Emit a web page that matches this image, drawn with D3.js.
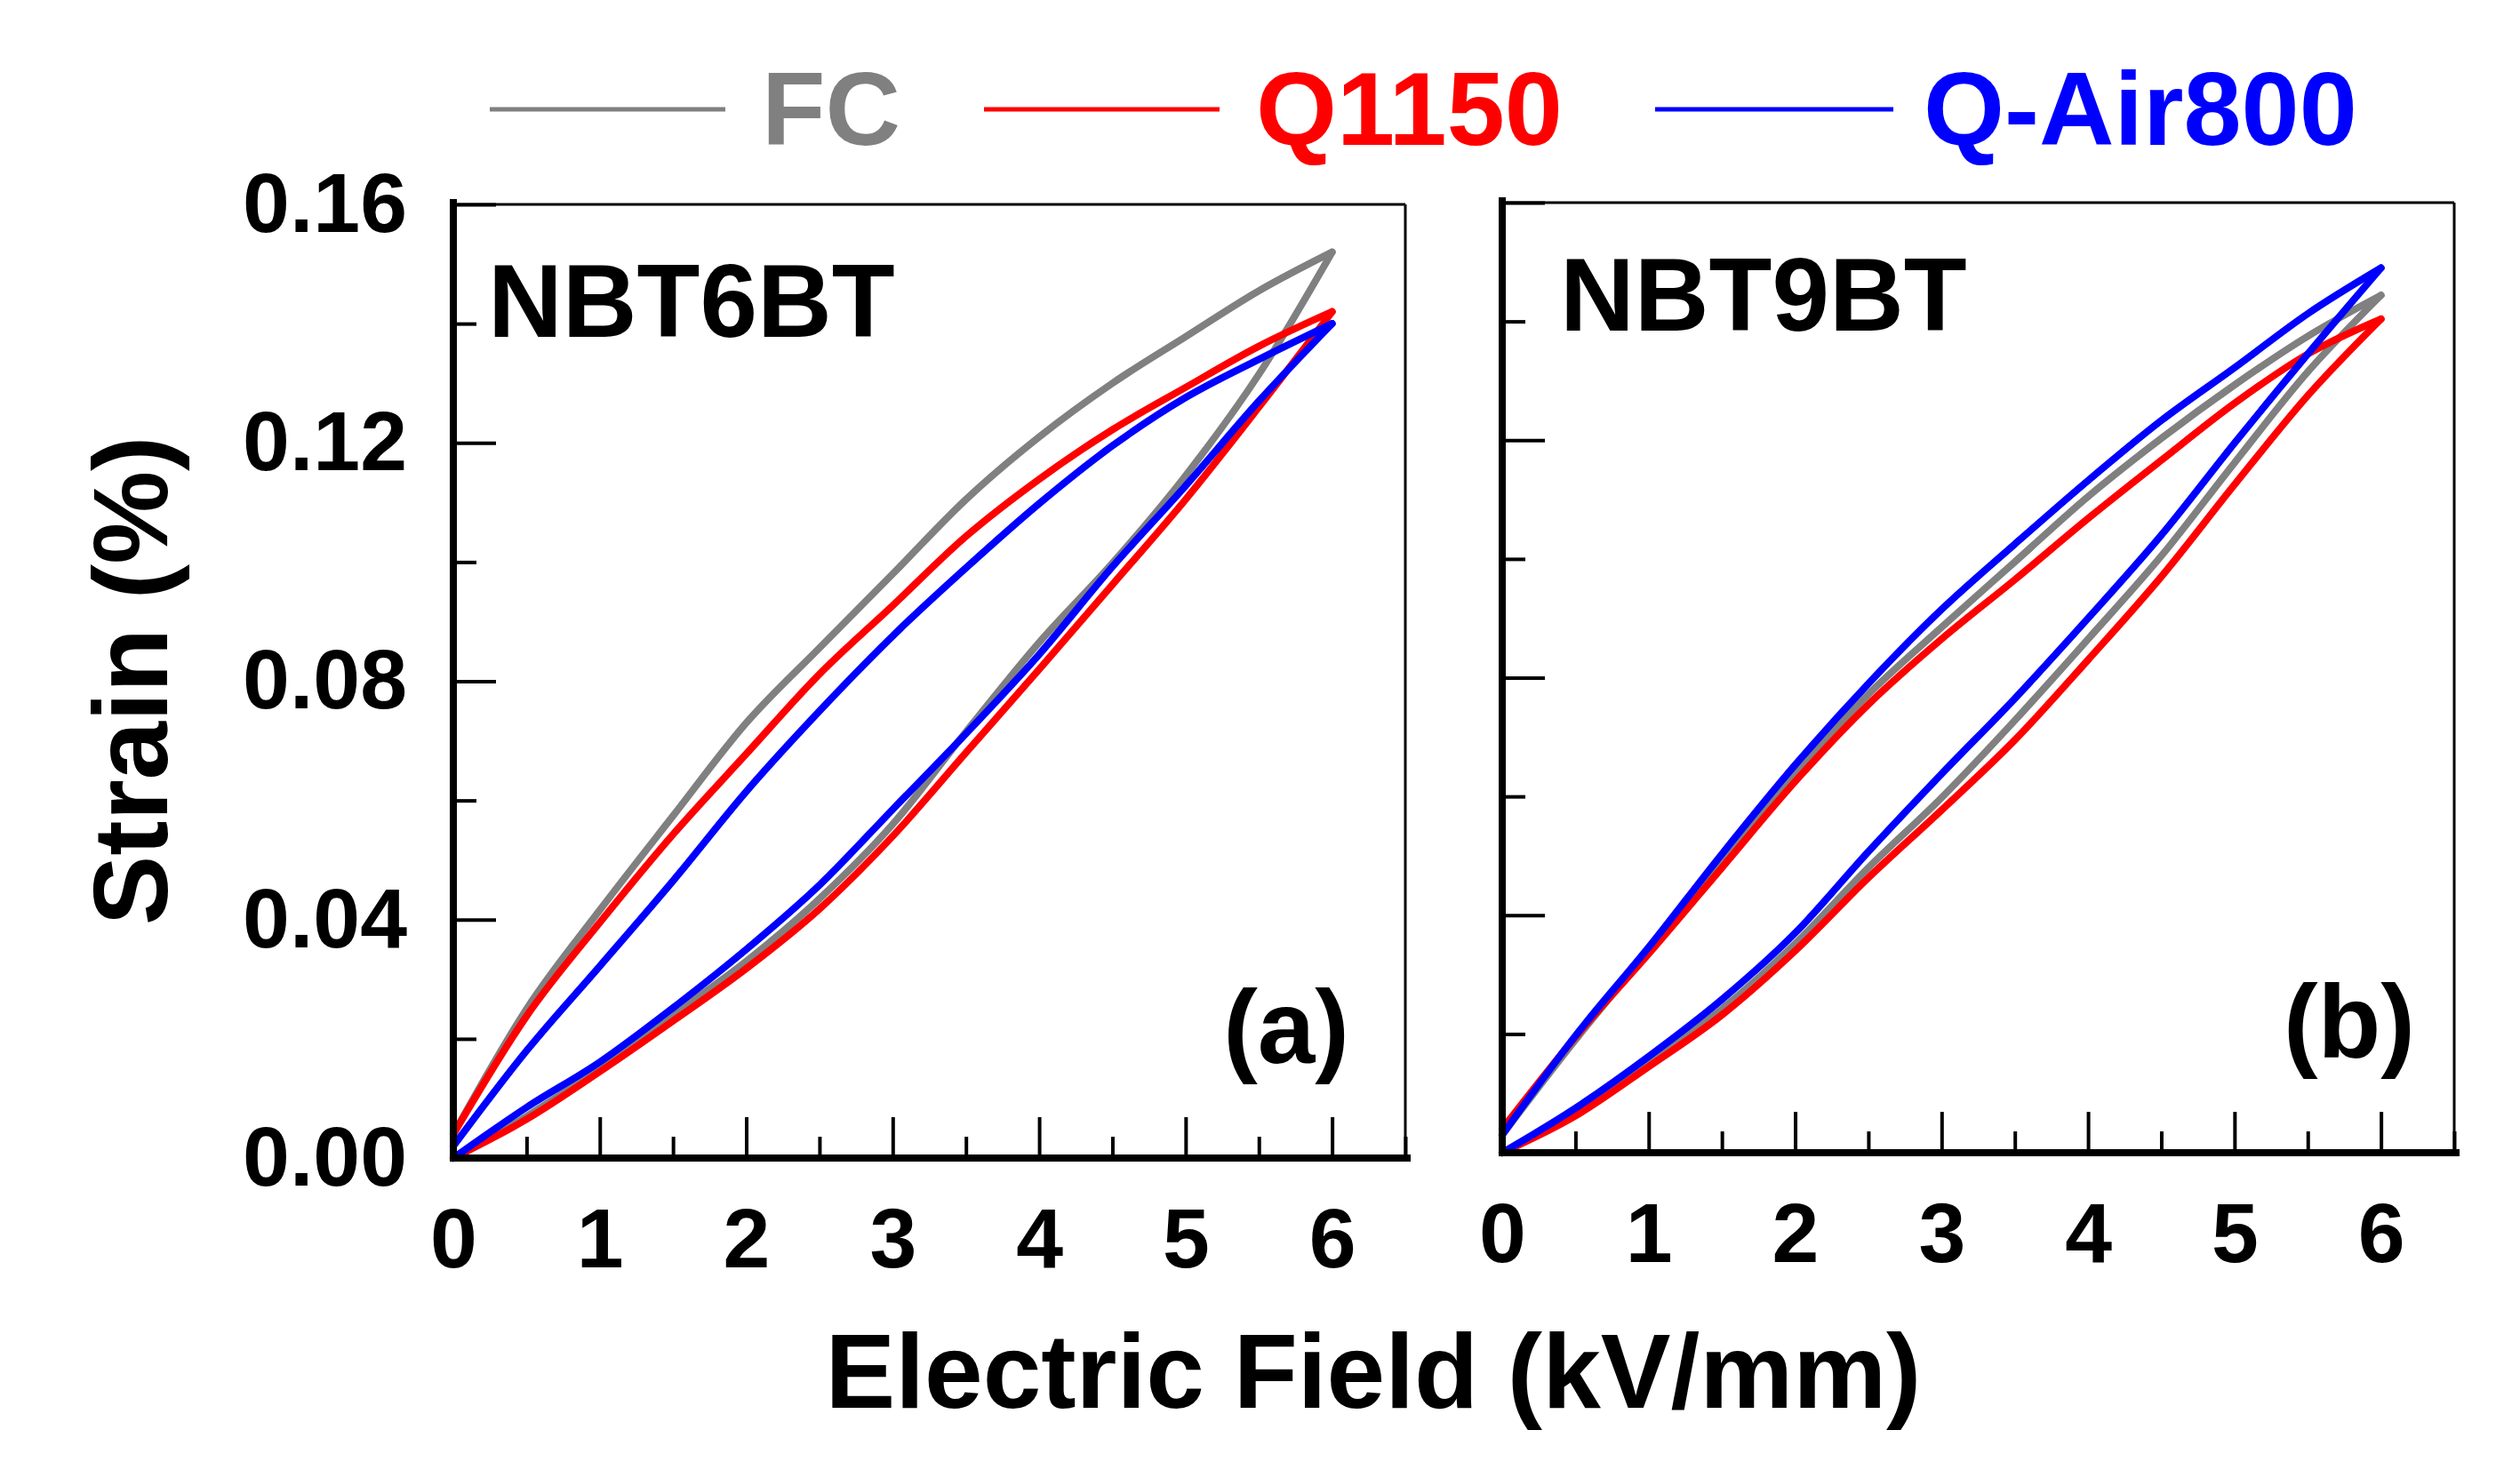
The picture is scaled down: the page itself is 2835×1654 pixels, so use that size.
<!DOCTYPE html>
<html><head><meta charset="utf-8">
<script src="https://cdn.jsdelivr.net/npm/d3@7"></script>
<style>
html,body{margin:0;padding:0;background:#fff;}
svg{display:block;}
text{font-family:"Liberation Sans",Arial,sans-serif;font-weight:bold;}
</style></head>
<body>
<script>
// ---------- data ----------
const fieldGrid = [0, 0.5, 1, 1.5, 2, 2.5, 3, 3.5, 4, 4.5, 5, 5.5, 6];
const seriesNames = ["FC", "Q1150", "Q-Air800"];
const seriesColors = ["#808080", "#ff0000", "#0000ff"];
const panelNames = ["NBT6BT", "NBT9BT"];
const panelTags = ["(a)", "(b)"];
const xTicks = [0, 1, 2, 3, 4, 5, 6];
const xMinor = [0.5, 1.5, 2.5, 3.5, 4.5, 5.5, 6.5];
const yTicks = [0, 0.04, 0.08, 0.12, 0.16];
const yMinor = [0.02, 0.06, 0.10, 0.14];

// NBT6BT (a): ascending (lower) and descending (upper) branches, strain in %
const a_FC_up    = [0.000, 0.007, 0.015, 0.024, 0.033, 0.0435, 0.056, 0.0715, 0.0865, 0.0998, 0.1145, 0.1315, 0.152];
const a_FC_down  = [0.004, 0.025, 0.0416, 0.0574, 0.073, 0.0856, 0.098, 0.1105, 0.121, 0.130, 0.1378, 0.1455, 0.152];
const a_Q_up     = [0.000, 0.0065, 0.0145, 0.023, 0.0318, 0.0418, 0.054, 0.068, 0.082, 0.0962, 0.1105, 0.126, 0.142];
const a_Q_down   = [0.004, 0.0238, 0.0395, 0.0543, 0.0678, 0.0812, 0.0927, 0.1043, 0.1139, 0.1222, 0.1293, 0.1362, 0.142];
const a_QA_up    = [0.000, 0.0085, 0.0161, 0.0252, 0.035, 0.0458, 0.0585, 0.0712, 0.0845, 0.0992, 0.1128, 0.127, 0.140];
const a_QA_down  = [0.002, 0.018, 0.0322, 0.0465, 0.0615, 0.075, 0.0876, 0.099, 0.1098, 0.1195, 0.1276, 0.134, 0.140];
// NBT9BT (b)
const b_FC_up    = [0.000, 0.0068, 0.0152, 0.0242, 0.0352, 0.048, 0.0598, 0.0728, 0.0865, 0.1005, 0.1162, 0.1315, 0.1444];
const b_FC_down  = [0.003, 0.019, 0.034, 0.0493, 0.0638, 0.0772, 0.0885, 0.0995, 0.1105, 0.1203, 0.1293, 0.1375, 0.1444];
const b_Q_up     = [0.000, 0.0062, 0.0145, 0.0232, 0.034, 0.0463, 0.0577, 0.0695, 0.083, 0.097, 0.1125, 0.1275, 0.1404];
const b_Q_down   = [0.004, 0.0195, 0.0335, 0.048, 0.0625, 0.0755, 0.0865, 0.0965, 0.1068, 0.1166, 0.1262, 0.1345, 0.1404];
const b_QA_up    = [0.000, 0.0075, 0.0162, 0.0258, 0.037, 0.0507, 0.0638, 0.0765, 0.090, 0.104, 0.1195, 0.1345, 0.149];
const b_QA_down  = [0.003, 0.0197, 0.0346, 0.0503, 0.0653, 0.079, 0.0915, 0.1025, 0.1132, 0.1233, 0.1322, 0.1413, 0.149];

const panelData = [
  [[a_FC_up, a_FC_down], [a_Q_up, a_Q_down], [a_QA_up, a_QA_down]],
  [[b_FC_up, b_FC_down], [b_Q_up, b_Q_down], [b_QA_up, b_QA_down]]
];

// ---------- layout ----------
const W = 2835, H = 1654;
const svg = d3.select("body").append("svg").attr("width", W).attr("height", H);
svg.append("rect").attr("width", W).attr("height", H).attr("fill", "#fff");

const panels = [
  {left: 510, right: 1581, top: 230, bottom: 1303, labelX: 549, labelY: 379, tagX: 1518, tagY: 1196, yLabels: true},
  {left: 1690, right: 2761, top: 228, bottom: 1297, labelX: 1755, labelY: 372, tagX: 2717, tagY: 1190, yLabels: false}
];

panels.forEach((p, pi) => {
  const x = d3.scaleLinear().domain([0, 6.5]).range([p.left, p.right]);
  const y = d3.scaleLinear().domain([0, 0.16]).range([p.bottom, p.top]);
  const g = svg.append("g");

  // frame top & right (thin)
  g.append("line").attr("x1", p.left).attr("x2", p.right).attr("y1", p.top).attr("y2", p.top)
    .attr("stroke", "#000").attr("stroke-width", 3);
  g.append("line").attr("x1", p.right).attr("x2", p.right).attr("y1", p.top).attr("y2", p.bottom)
    .attr("stroke", "#000").attr("stroke-width", 3);

  // curves: each loop = ascending branch + descending branch
  const line = d3.line().x(d => x(d[0])).y(d => y(d[1])).curve(d3.curveMonotoneX);
  panelData[pi].forEach((pair, si) => {
    pair.forEach(branch => {
      const pts = fieldGrid.map((e, i) => [e, branch[i]]);
      g.append("path").attr("d", line(pts)).attr("fill", "none")
        .attr("stroke", seriesColors[si]).attr("stroke-width", 8)
        .attr("stroke-linejoin", "round").attr("stroke-linecap", "round");
    });
  });

  // x axis
  const xAx = g.append("g").attr("transform", `translate(0,${p.bottom})`)
    .call(d3.axisBottom(x).tickValues(xTicks).tickSize(-46).tickPadding(56).tickFormat(d3.format("d")));
  const xMin = g.append("g").attr("transform", `translate(0,${p.bottom})`)
    .call(d3.axisBottom(x).tickValues(xMinor).tickSize(-24).tickFormat(""));
  // y axis
  const yAx = g.append("g").attr("transform", `translate(${p.left},0)`)
    .call(d3.axisLeft(y).tickValues(yTicks).tickSize(-48).tickPadding(52)
      .tickFormat(p.yLabels ? d3.format(".2f") : ""));
  const yMin = g.append("g").attr("transform", `translate(${p.left},0)`)
    .call(d3.axisLeft(y).tickValues(yMinor).tickSize(-26).tickFormat(""));

  [xAx, xMin, yAx, yMin].forEach(a => {
    a.select(".domain").remove();
    a.selectAll(".tick line").attr("stroke", "#000").attr("stroke-width", 4);
    a.selectAll(".tick text").attr("fill", "#000").style("font-size", "95px")
      .style("font-family", '"Liberation Sans",Arial,sans-serif').style("font-weight", "bold");
  });

  // thick left & bottom axis lines
  g.append("line").attr("x1", p.left).attr("x2", p.right + 2).attr("y1", p.bottom).attr("y2", p.bottom)
    .attr("stroke", "#000").attr("stroke-width", 8).attr("stroke-linecap", "square");
  g.append("line").attr("x1", p.left).attr("x2", p.left).attr("y1", p.top - 2).attr("y2", p.bottom)
    .attr("stroke", "#000").attr("stroke-width", 8).attr("stroke-linecap", "square");

  // panel labels
  g.append("text").attr("x", p.labelX).attr("y", p.labelY).attr("font-size", 116).attr("fill", "#000")
    .text(panelNames[pi]);
  g.append("text").attr("x", p.tagX).attr("y", p.tagY).attr("font-size", 116).attr("fill", "#000")
    .attr("text-anchor", "end").text(panelTags[pi]);
});

// axis titles
svg.append("text").attr("x", 1545).attr("y", 1584).attr("text-anchor", "middle")
  .attr("font-size", 118).attr("fill", "#000").text("Electric Field (kV/mm)");
svg.append("text").attr("transform", "translate(188,766) rotate(-90)").attr("text-anchor", "middle")
  .attr("font-size", 118).attr("fill", "#000").text("Strain (%)");

// legend
const legendLines = [[551, 816], [1107, 1372], [1862, 2130]];
const legendTextX = [857, 1413, 2164];
seriesNames.forEach((n, i) => {
  svg.append("line").attr("x1", legendLines[i][0]).attr("x2", legendLines[i][1])
    .attr("y1", 123).attr("y2", 123).attr("stroke", seriesColors[i]).attr("stroke-width", 5);
  svg.append("text").attr("x", legendTextX[i]).attr("y", 163).attr("font-size", 117)
    .attr("fill", seriesColors[i]).text(n);
});
</script>
</body></html>
